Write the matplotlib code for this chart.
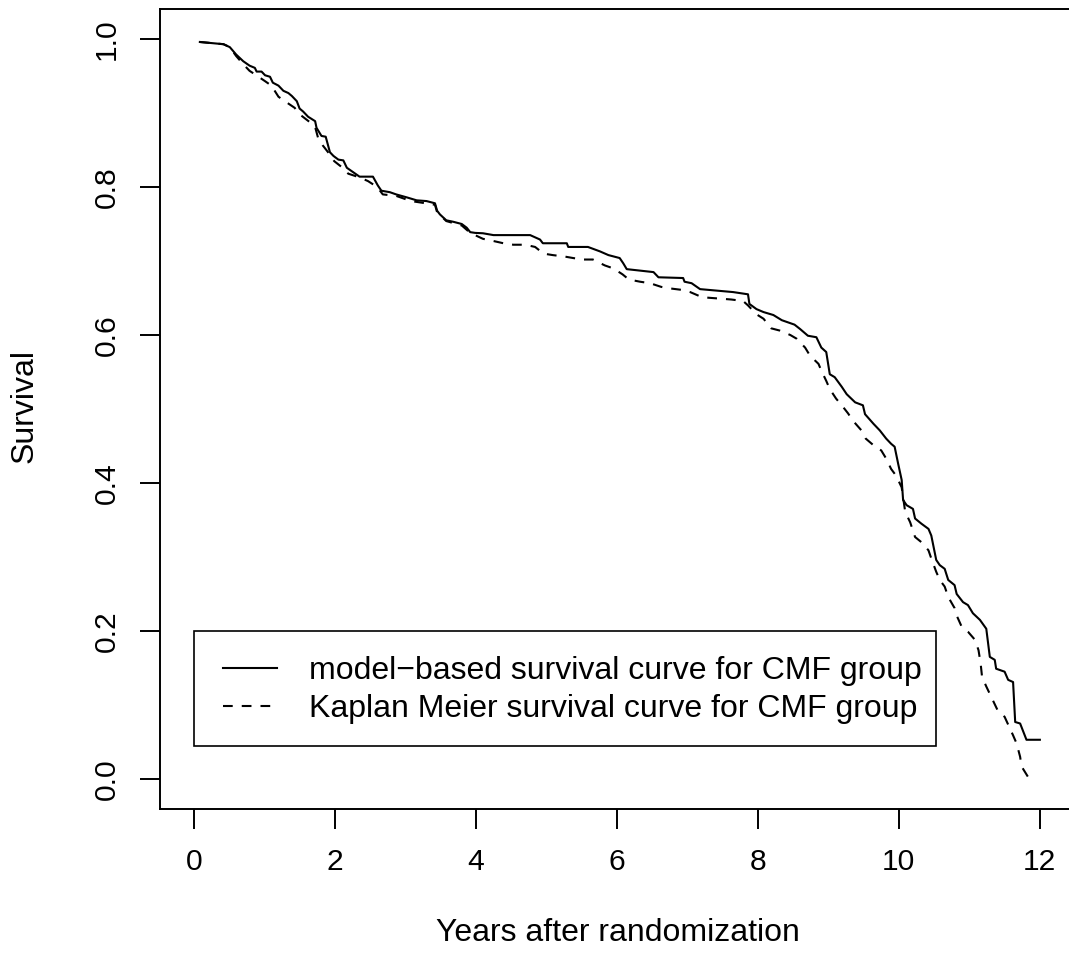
import matplotlib.pyplot as plt
from matplotlib.patches import Rectangle

plt.rcParams['font.family'] = ['Liberation Sans', 'DejaVu Sans']
plt.rcParams['lines.scale_dashes'] = False

# - - - Curves (years, survival) - - - #
model_years = [0.085, 0.42, 0.51, 0.60, 0.70, 0.79, 0.865, 0.89, 0.96, 1.01,
               1.08, 1.12, 1.20, 1.27, 1.34, 1.39, 1.46, 1.50, 1.55, 1.62,
               1.72, 1.74, 1.81, 1.87, 1.93, 1.98, 2.05, 2.12, 2.17, 2.26,
               2.35, 2.54, 2.61, 2.66, 2.78, 2.87, 3.02, 3.16, 3.30, 3.42,
               3.45, 3.49, 3.58, 3.68, 3.80, 3.87, 3.92, 3.99, 4.10, 4.25,
               4.77, 4.91, 4.95, 5.29, 5.31, 5.59, 5.76, 5.88, 6.04, 6.09,
               6.14, 6.52, 6.59, 6.94, 6.96, 7.06, 7.18, 7.65, 7.86, 7.88,
               7.98, 8.08, 8.22, 8.34, 8.43, 8.52, 8.60, 8.71, 8.83, 8.90,
               8.97, 9.02, 9.09, 9.19, 9.26, 9.38, 9.49, 9.52, 9.64, 9.73,
               9.82, 9.89, 9.94, 9.99, 10.04, 10.06, 10.11, 10.20, 10.23, 10.32,
               10.42, 10.46, 10.53, 10.58, 10.65, 10.70, 10.79, 10.82, 10.91, 10.98,
               11.05, 11.15, 11.24, 11.29, 11.36, 11.38, 11.50, 11.55, 11.62, 11.65,
               11.72, 11.81, 12.00]
model_surv = [0.996, 0.993, 0.989, 0.979, 0.970, 0.964, 0.961, 0.956, 0.956, 0.951,
              0.949, 0.941, 0.937, 0.930, 0.927, 0.923, 0.916, 0.906, 0.902, 0.895,
              0.889, 0.880, 0.869, 0.868, 0.847, 0.842, 0.837, 0.836, 0.826, 0.820,
              0.814, 0.814, 0.802, 0.795, 0.793, 0.790, 0.786, 0.782, 0.781, 0.778,
              0.768, 0.763, 0.755, 0.753, 0.750, 0.745, 0.739, 0.738, 0.7375, 0.735,
              0.735, 0.729, 0.724, 0.724, 0.719, 0.719, 0.713, 0.708, 0.704, 0.697,
              0.689, 0.685, 0.678, 0.677, 0.672, 0.670, 0.662, 0.658, 0.655, 0.642,
              0.635, 0.631, 0.627, 0.620, 0.617, 0.614, 0.608, 0.599, 0.597, 0.583,
              0.577, 0.547, 0.543, 0.530, 0.520, 0.509, 0.505, 0.493, 0.480, 0.471,
              0.460, 0.453, 0.449, 0.426, 0.404, 0.377, 0.370, 0.365, 0.352, 0.345,
              0.338, 0.329, 0.296, 0.289, 0.284, 0.269, 0.262, 0.250, 0.239, 0.235,
              0.224, 0.215, 0.203, 0.165, 0.161, 0.149, 0.145, 0.134, 0.131, 0.077,
              0.075, 0.053, 0.053]

km_years = [0.085, 0.42, 0.51, 0.60, 0.70, 0.79, 0.87, 1.01, 1.10, 1.20,
            1.29, 1.43, 1.49, 1.64, 1.72, 1.76, 1.83, 1.92, 1.99, 2.11,
            2.19, 2.35, 2.47, 2.60, 2.68, 2.87, 3.08, 3.22, 3.42, 3.45,
            3.58, 3.80, 3.92, 4.10, 4.25, 4.39, 4.53, 4.70, 4.84, 4.96,
            5.09, 5.26, 5.38, 5.52, 5.66, 5.83, 5.95, 6.08, 6.17, 6.33,
            6.47, 6.63, 6.75, 6.92, 7.04, 7.21, 7.35, 7.62, 7.79, 7.86,
            7.98, 8.08, 8.19, 8.31, 8.46, 8.55, 8.67, 8.74, 8.86, 8.90,
            8.97, 9.02, 9.11, 9.19, 9.28, 9.35, 9.47, 9.53, 9.64, 9.75,
            9.82, 9.89, 9.96, 10.04, 10.09, 10.16, 10.23, 10.32, 10.42, 10.46,
            10.53, 10.58, 10.65, 10.70, 10.79, 10.81, 10.89, 10.98, 11.08, 11.13,
            11.16, 11.18, 11.24, 11.31, 11.40, 11.50, 11.62, 11.67, 11.72, 11.74,
            11.85]
km_surv = [0.996, 0.993, 0.989, 0.977, 0.966, 0.957, 0.952, 0.943, 0.937, 0.922,
           0.916, 0.907, 0.899, 0.888, 0.881, 0.867, 0.856, 0.845, 0.835, 0.826,
           0.818, 0.813, 0.808, 0.800, 0.790, 0.788, 0.781, 0.779, 0.776, 0.766,
           0.754, 0.748, 0.738, 0.730, 0.727, 0.724, 0.722, 0.722, 0.719, 0.710,
           0.708, 0.706, 0.704, 0.702, 0.702, 0.694, 0.690, 0.682, 0.675, 0.672,
           0.670, 0.665, 0.663, 0.661, 0.658, 0.651, 0.650, 0.648, 0.646, 0.640,
           0.628, 0.622, 0.609, 0.606, 0.600, 0.595, 0.583, 0.572, 0.561, 0.552,
           0.538, 0.527, 0.514, 0.505, 0.494, 0.484, 0.471, 0.460, 0.451, 0.444,
           0.433, 0.419, 0.410, 0.394, 0.361, 0.347, 0.327, 0.320, 0.309, 0.298,
           0.280, 0.269, 0.260, 0.246, 0.231, 0.223, 0.206, 0.199, 0.188, 0.174,
           0.156, 0.138, 0.125, 0.111, 0.093, 0.084, 0.059, 0.048, 0.030, 0.017,
           0.000]

x_ticks = [0, 2, 4, 6, 8, 10, 12]
y_ticks = [0.0, 0.2, 0.4, 0.6, 0.8, 1.0]
y_tick_labels = ['0.0', '0.2', '0.4', '0.6', '0.8', '1.0']
legend_labels = ['model\u2212based survival curve for CMF group',
                 'Kaplan Meier survival curve for CMF group']

FS = 21.6       # tick labels
FS_TXT = 23.0   # axis titles and legend text
LW = 1.5
DASH = (0, (7.0, 6.5))

fig = plt.figure(figsize=(10.69, 9.61), dpi=100)
ax = fig.add_axes([0.1497, 0.1586, 0.8547, 0.8316])

ax.plot(model_years, model_surv, color='black', lw=LW)
ax.plot(km_years, km_surv, color='black', lw=LW, linestyle=DASH)

ax.set_xlim(-0.48, 12.48)
ax.set_ylim(-0.04, 1.04)
ax.set_xticks(x_ticks)
ax.set_yticks(y_ticks)
ax.set_yticklabels(y_tick_labels, rotation=90, va='center')
ax.tick_params(direction='out', length=14.4, width=1.4, labelsize=FS)
ax.tick_params(axis='x', pad=14)
ax.tick_params(axis='y', pad=14)
for s in ax.spines.values():
    s.set_linewidth(1.4)

fig.text(618 / 1069, 1 - 933 / 961, 'Years after randomization',
         ha='center', va='center', fontsize=FS_TXT)
fig.text(25 / 1069, 1 - 406 / 961, 'Survival', rotation=90,
         ha='center', va='center', fontsize=FS_TXT)

# - - - legend box (drawn by hand, R style) - - - #
ax.add_patch(Rectangle((0, 0.044), 10.52, 0.156, fill=False,
                       edgecolor='black', lw=1.2))
ax.plot([0.407, 1.173], [0.150, 0.150], color='black', lw=LW)
ax.plot([0.407, 1.173], [0.099, 0.099], color='black', lw=LW, linestyle=DASH)
ax.text(1.631, 0.150, legend_labels[0], fontsize=FS_TXT, va='center_baseline')
ax.text(1.631, 0.099, legend_labels[1], fontsize=FS_TXT, va='center_baseline')

fig.savefig('out.png', dpi=100)
